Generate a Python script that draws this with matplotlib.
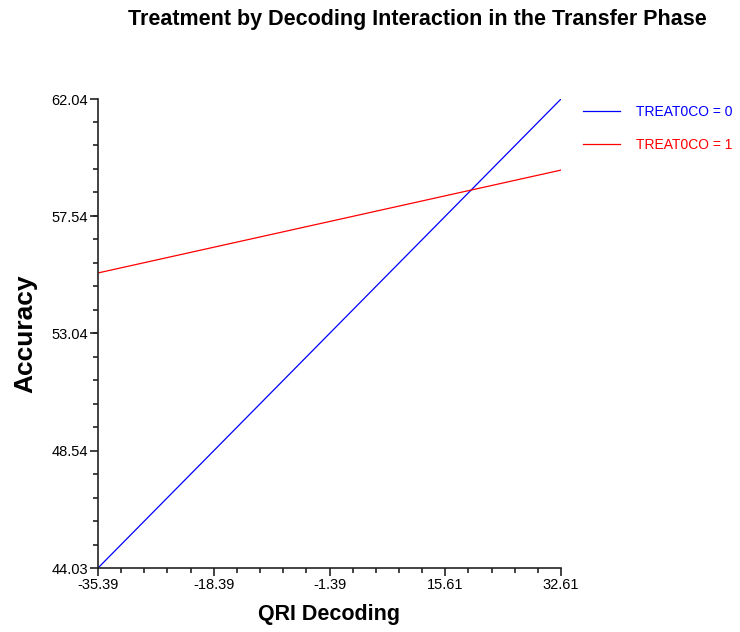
import matplotlib
matplotlib.use("Agg")
import matplotlib.pyplot as plt
from matplotlib.ticker import FixedLocator, AutoMinorLocator

plt.rcParams["font.family"] = ["Liberation Sans", "DejaVu Sans"]

# Simple slopes of accuracy on QRI decoding, one line per treatment group
decoding = [-35.39, 32.61]
acc_treat0 = [44.03, 62.04]
acc_treat1 = [55.36, 59.31]
group_labels = ["TREAT0CO = 0", "TREAT0CO = 1"]
group_colors = ["#0000ff", "#ff0000"]

x_ticks = [-35.39, -18.39, -1.39, 15.61, 32.61]
y_ticks = [44.03, 48.54, 53.04, 57.54, 62.04]

fig = plt.figure(figsize=(7.40, 6.32), dpi=100)
ax = fig.add_axes([98 / 740, 1 - 568 / 632, (561 - 98) / 740, (568 - 99) / 632])

for ys, lab, col in zip([acc_treat0, acc_treat1], group_labels, group_colors):
    ax.plot(decoding, ys, color=col, lw=0.9, label=lab)

ax.set_xlim(x_ticks[0], x_ticks[-1])
ax.set_ylim(y_ticks[0], y_ticks[-1])
ax.xaxis.set_major_locator(FixedLocator(x_ticks))
ax.yaxis.set_major_locator(FixedLocator(y_ticks))
ax.set_xticklabels([f"{v:.2f}" for v in x_ticks])
ax.set_yticklabels([f"{v:.2f}" for v in y_ticks])
ax.xaxis.set_minor_locator(AutoMinorLocator(5))
ax.yaxis.set_minor_locator(AutoMinorLocator(5))

for side in ["top", "right"]:
    ax.spines[side].set_visible(False)
for side in ["left", "bottom"]:
    ax.spines[side].set_linewidth(1.2)
    ax.spines[side].set_color("#222222")

ax.tick_params(which="major", length=6, width=1.2, labelsize=10.5, pad=1, color="#222222")
ax.tick_params(which="minor", length=3.5, width=1.2, color="#222222")

ax.set_xlabel("QRI Decoding", fontsize=15.5, fontweight="bold", labelpad=9)
ax.set_ylabel("Accuracy", fontsize=19, fontweight="bold", labelpad=10)
fig.text(417 / 740, 1 - 20 / 632, "Treatment by Decoding Interaction in the Transfer Phase",
         ha="center", va="center", fontsize=15.5, fontweight="bold")

leg = ax.legend(loc="upper left", bbox_to_anchor=(1.020, 1.0135), frameon=False,
                fontsize=10, handlelength=2.7, handletextpad=1.15, labelspacing=1.37)
for txt, col in zip(leg.get_texts(), group_colors):
    txt.set_color(col)

fig.savefig("out.png", dpi=100)
